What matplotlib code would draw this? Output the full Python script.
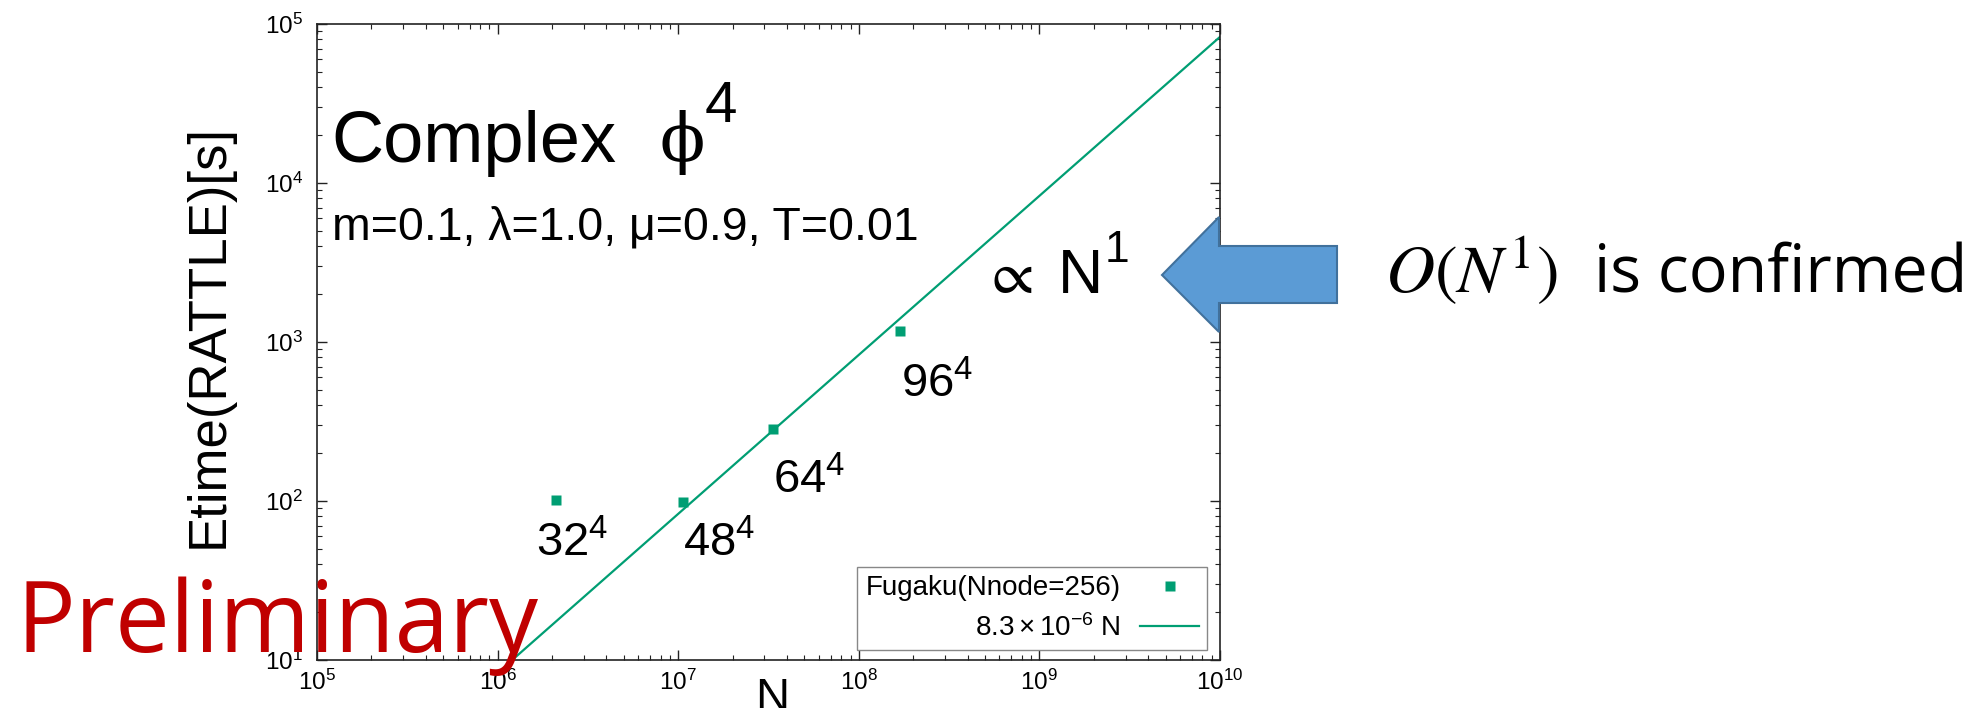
import matplotlib
matplotlib.use("Agg")
import matplotlib.pyplot as plt
import numpy as np
from matplotlib.ticker import LogLocator, NullFormatter
from matplotlib.patches import Polygon

# ---------------- data ----------------
lattice_labels = ["32", "48", "64", "96"]
N_sites = [2.10e6, 1.06e7, 3.36e7, 1.70e8]
etime = [101, 99, 284, 1180]
fit_coef = 8.3e-6
fit_N = [1e5, 1e10]
x_lim = [1e5, 1e10]
y_lim = [1e1, 1e5]
series_label = "Fugaku(Nnode=256)"
fit_label = r"$8.3\times10^{\mathdefault{-6}}$ N"
label_offsets = [(-20, -56), (0, -55), (0, -64), (1, -67)]  # pixels, layout only

# ---------------- style ----------------
W, H, DPI = 1985, 708, 100
plt.rcParams['font.family'] = ['Liberation Sans', 'DejaVu Sans']
plt.rcParams['mathtext.fontset'] = 'custom'
plt.rcParams['mathtext.rm'] = 'Liberation Sans'
plt.rcParams['mathtext.it'] = 'Liberation Sans:italic'
plt.rcParams['mathtext.bf'] = 'Liberation Sans:bold'

green = '#009E73'
fig = plt.figure(figsize=(W / DPI, H / DPI), dpi=DPI)
fig.patch.set_facecolor('white')


def fx(x):
    return x / W


def fy(y):
    return 1 - y / H


ax = fig.add_axes([fx(317), fy(660), (1220 - 317) / W, (660 - 24) / H])
ax.set_xscale('log')
ax.set_yscale('log')
ax.set_xlim(x_lim)
ax.set_ylim(y_lim)

ax.plot(N_sites, etime, 's', color=green, ms=7.2, mec='none', label=series_label, zorder=3)
fx_arr = np.array(fit_N)
ax.plot(fx_arr, fit_coef * fx_arr, '-', color=green, lw=1.6, label=fit_label, zorder=2)

for sp in ax.spines.values():
    sp.set_linewidth(1.2)
    sp.set_color('#222222')

for axis in (ax.xaxis, ax.yaxis):
    axis.set_major_locator(LogLocator(base=10, numticks=20))
    axis.set_minor_locator(LogLocator(base=10, subs=np.arange(2, 10), numticks=20))
    axis.set_minor_formatter(NullFormatter())
ax.tick_params(which='both', direction='in', top=True, right=True, color='#222222')
ax.tick_params(which='major', length=7, width=1.0, labelsize=17.5)
ax.tick_params(axis='y', which='major', pad=10)
ax.tick_params(axis='x', which='major', pad=7)
ax.tick_params(which='minor', length=3.5, width=0.8)

# lattice labels
for lab, xv, yv, off in zip(lattice_labels, N_sites, etime, label_offsets):
    ax.annotate(r"$\mathdefault{%s^{4}}$" % lab, xy=(xv, yv), xytext=off,
                textcoords='offset pixels', fontsize=34, ha='left', va='baseline')

leg = ax.legend(loc='lower right', bbox_to_anchor=((1207 - 317) / 903, (660 - 650) / 636),
                borderaxespad=0, markerfirst=False, fontsize=20, fancybox=False,
                edgecolor='#888888', framealpha=1, handlelength=2.1, handletextpad=0.7,
                labelspacing=0.45, borderpad=0.3)
leg.get_frame().set_linewidth(1.0)

# axis labels
fig.text(fx(209), fy(336), "Etime(RATTLE)[s]", rotation=90, fontsize=38, ha='center', va='center')
fig.text(fx(755), fy(711), "N", fontsize=34, ha='left', va='baseline')

# in-plot texts
fig.text(fx(331), fy(162), "Complex", fontsize=52, va='baseline')
fig.text(fx(660), fy(161), "\u03d5", fontsize=48, family='DejaVu Serif', va='baseline')
fig.text(fx(705), fy(122), "4", fontsize=42, va='baseline')
fig.text(fx(332), fy(240), "m=0.1, \u03bb=1.0, \u03bc=0.9, T=0.01", fontsize=33.5, va='baseline')
fig.text(fx(983), fy(293), r"$\propto$", fontsize=44, math_fontfamily='stix', va='baseline')
fig.text(fx(1058), fy(293), "N", fontsize=45, va='baseline')
fig.text(fx(1105), fy(262), "1", fontsize=32, va='baseline')

# arrow
arrow_px = [(1162, 275), (1219, 217), (1219, 246), (1337, 246),
            (1337, 303), (1219, 303), (1219, 332)]
poly = Polygon([(fx(a), fy(b)) for a, b in arrow_px], closed=True, transform=fig.transFigure,
               facecolor='#5B9BD5', edgecolor='#41719C', linewidth=1.5, zorder=5)
fig.add_artist(poly)

# right-hand statement
fig.text(fx(1385), fy(293), r"$O(N^1)$", fontsize=49, math_fontfamily='stix', va='baseline')
fig.text(fx(1594), fy(293), "is confirmed", fontsize=46.5, family='Open Sans', va='baseline')

# watermark
fig.text(fx(16), fy(652), "Preliminary", color='#C00000', fontsize=70.5, family='Open Sans',
         va='baseline', zorder=10)

fig.savefig("out.png", dpi=DPI, facecolor='white')
